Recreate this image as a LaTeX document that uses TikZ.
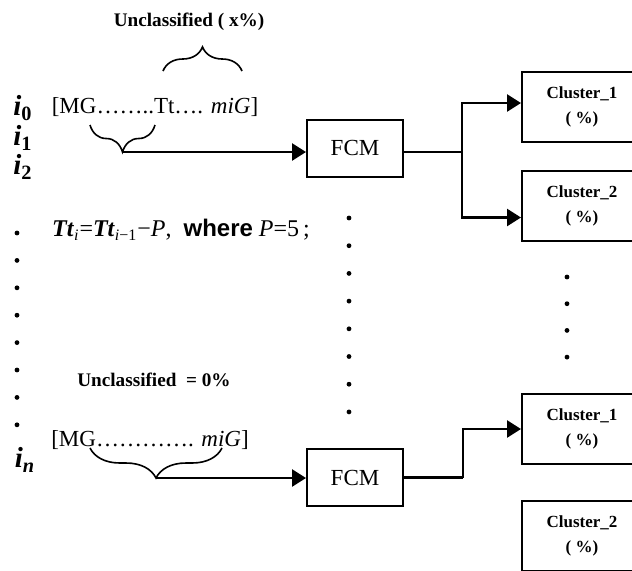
\documentclass[tikz,border=0pt]{standalone}
\usepackage{fontspec}
\setmainfont{Liberation Serif}
\setsansfont{Liberation Sans}
\usetikzlibrary{arrows.meta, decorations.pathreplacing}

\begin{document}
\begin{tikzpicture}[->,>={Triangle[length=7pt,width=8.5pt]},x=0.5pt,y=-0.5pt,line width=1.3pt]
                \tikzset{fcm/.style={draw, line width=1pt, minimum width=48pt, minimum height=28.5pt, font=\fontsize{11.5}{12}\selectfont},
                         cluster/.style={draw, line width=1pt, minimum width=60pt, minimum height=35pt, align=center, font=\fontsize{8.5}{12.5}\selectfont\bfseries},
                         lbl/.style={font=\fontsize{9.6}{10}\selectfont\bfseries},
                         seq/.style={font=\fontsize{11.5}{12}\selectfont},
                         idx/.style={font=\fontsize{14.5}{12}\selectfont\bfseries\itshape},
                         brc/.style={-, decorate, decoration={brace, amplitude=#1}, line width=0.8pt},
                         pt/.style={fill, circle, inner sep=0pt, minimum size=2.4pt}}
                \clip (0,0) rectangle (632,570);
                % upper row
                \node[lbl] (U1) at (189,22) {Unclassified ( x\%)};
                \node[idx] (I0) at (23,108) {i\textsubscript{\upshape 0}};
                \node[idx] (I1) at (23,138) {i\textsubscript{\upshape 1}};
                \node[idx] (I2) at (23,167) {i\textsubscript{\upshape 2}};
                \node[seq] (S1) at (155,107) {[MG……..Tt…. \textit{miG}]};
                \draw[brc=12pt] (163,71) -- (242,71);
                \draw[brc=13.5pt] (155,125) -- (90,125);
                \coordinate (T1) at (123,152);
                \node[fcm] (F1) at (355,148) {FCM};
                \node[cluster] (C1) at (582,107) {Cluster\_1\\( \%)};
                \node[cluster] (C2) at (582,205.5) {Cluster\_2\\( \%)};
                \coordinate (B1) at (462,152);
                \path (T1) edge (T1 -| F1.west);
                \draw[-] (F1.east |- B1) -- (B1);
                \draw (B1) |- ([yshift=2pt]C1.west);
                \draw (B1) |- ([yshift=-6pt]C2.west);
                % middle
                \node[font=\fontsize{12}{12}\selectfont] (EQ) at (181,230) {\textbf{\textit{Tt}}\textsubscript{\textit{i}}=\textbf{\textit{Tt}}\textsubscript{\textit{i}−1}−\textit{P},\enspace{\sffamily\bfseries where}\ \textit{P}=5\,;};
                \node[lbl] (U2) at (154,380) {Unclassified\enspace= 0\%};
                \foreach \k in {0,...,7} \node[pt] (L\k) at (17,{233+27.4*\k}) {};
                \foreach \k in {0,...,7} \node[pt] (M\k) at (349,{218+27.7*\k}) {};
                \foreach \k in {0,...,3} \node[pt] (R\k) at (567,{277+26.7*\k}) {};
                % lower row
                \node[idx] (IN) at (25,460) {i\textsubscript{n}};
                \node[seq] (S2) at (150,440) {[MG…………. \textit{miG}]};
                \draw[brc=15pt] (222,448) -- (90,448);
                \coordinate (T2) at (156,478);
                \node[fcm] (F2) at (355,477.5) {FCM};
                \node[cluster] (C3) at (582,429) {Cluster\_1\\( \%)};
                \node[cluster] (C4) at (582,536) {Cluster\_2\\( \%)};
                \coordinate (B2) at (463,477.5);
                \path (T2) edge (T2 -| F2.west);
                \draw[-] (F2.east) -- (B2);
                \draw (B2) |- (C3.west);
\end{tikzpicture}
\end{document}
